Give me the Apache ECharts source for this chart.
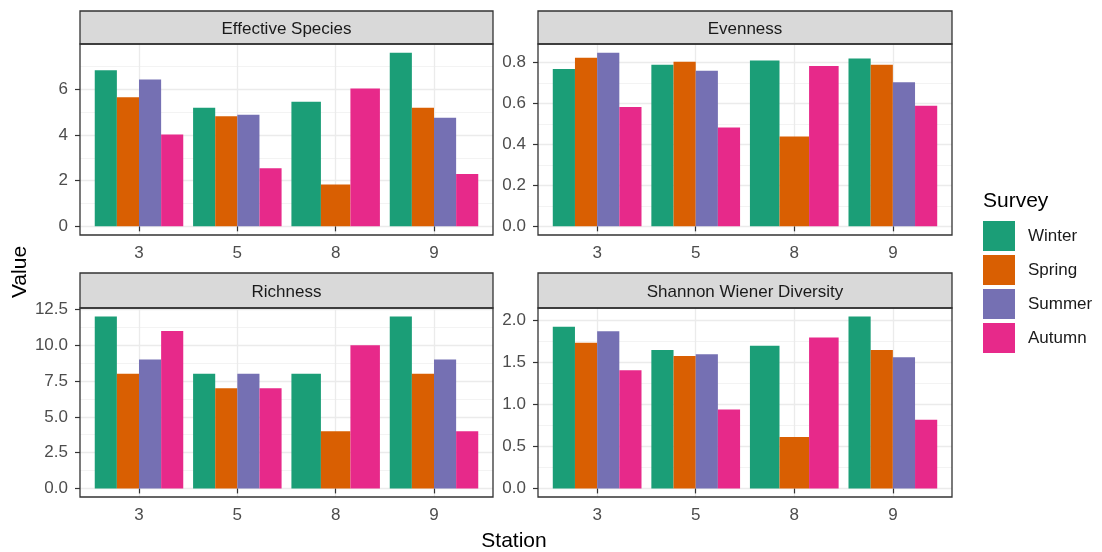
<!DOCTYPE html>
<html>
<head>
<meta charset="utf-8">
<script src="https://cdn.jsdelivr.net/npm/echarts@6/dist/echarts.min.js"></script>
<style>
  html, body {margin: 0; padding: 0; background: #fff;}
  #chart {width: 1102px; height: 552px;}
</style>
</head>
<body>
<div id="chart"></div>
<script>
const stations = ['3', '5', '8', '9']
const surveys = ['Winter', 'Spring', 'Summer', 'Autumn']
const colors = ['#1B9E77', '#D95F02', '#7570B3', '#E7298A']
const panelTitles = ['Effective Species', 'Evenness', 'Richness', 'Shannon Wiener Diversity']

// one row per survey (Winter, Spring, Summer, Autumn), one column per station
const effectiveSpecies = [
  [6.83, 5.19, 5.45, 7.60],
  [5.65, 4.82, 1.83, 5.19],
  [6.43, 4.88, null, 4.75],
  [4.02, 2.54, 6.03, 2.29],
]
const evenness = [
  [0.769, 0.790, 0.811, 0.820],
  [0.824, 0.805, 0.439, 0.790],
  [0.849, 0.761, null, 0.705],
  [0.583, 0.483, 0.784, 0.589],
]
const richness = [
  [12, 8, 8, 12],
  [8, 7, 4, 8],
  [9, 8, null, 9],
  [11, 7, 10, 4],
]
const shannon = [
  [1.921, 1.646, 1.697, 2.043],
  [1.732, 1.575, 0.610, 1.646],
  [1.870, 1.594, null, 1.559],
  [1.406, 0.937, 1.795, 0.815],
]

// tick labels
const yTicks = [
  [0, 2, 4, 6],
  [0, 0.2, 0.4, 0.6, 0.8],
  [0, 2.5, 5, 7.5, 10, 12.5],
  [0, 0.5, 1, 1.5, 2],
]
const yStep = [2, 0.2, 2.5, 0.5]
const yDigits = [0, 1, 1, 1]
const xTicks = [1, 2, 3, 4]

const panelData = [effectiveSpecies, evenness, richness, shannon]

const FONT = '"Liberation Sans", Arial, sans-serif'
const panels = [
  {left: 80, top: 44, width: 413, height: 191, stripTop: 11},
  {left: 538, top: 44, width: 414, height: 191, stripTop: 11},
  {left: 80, top: 308, width: 413, height: 189, stripTop: 273},
  {left: 538, top: 308, width: 414, height: 189, stripTop: 273},
]

// dodge like ggplot: 0.9 wide group split between the bars present
const renderBar = function (params, api) {
  const st = api.value(0), v = api.value(1), slot = api.value(2), n = api.value(3)
  const w = 0.9 / n
  const x0 = st - 0.45 + slot * w
  const p0 = api.coord([x0, v])
  const p1 = api.coord([x0 + w, 0])
  return {
    type: 'rect',
    shape: {x: p0[0], y: p0[1], width: p1[0] - p0[0], height: p1[1] - p0[1]},
    style: api.style(),
  }
}

const buildSeries = function (data, gi) {
  let list = []
  surveys.forEach((name, s) => {
    let items = []
    stations.forEach((st, j) => {
      if (data[s][j] == null) return
      let present = []
      for (let k = 0; k < surveys.length; k++) {
        if (data[k][j] != null) present.push(k)
      }
      items.push([j + 1, data[s][j], present.indexOf(s), present.length])
    })
    list.push({
      type: 'custom',
      name: name,
      xAxisIndex: gi,
      yAxisIndex: gi,
      itemStyle: {color: colors[s]},
      encode: {x: 0, y: 1},
      renderItem: renderBar,
      data: items,
      z: 3,
    })
  })
  return list
}

let grids = [], xAxes = [], yAxes = [], series = [], graphics = []

panelData.forEach((data, i) => {
  const p = panels[i]
  const flat = data.flat().filter(v => v != null)
  const dmax = Math.max(...flat)
  grids.push({left: p.left, top: p.top, width: p.width, height: p.height, show: false})
  xAxes.push({
    type: 'value', gridIndex: i, min: 0.4, max: 4.6, minInterval: 1, maxInterval: 1,
    axisLine: {show: false},
    axisTick: {show: true, length: 5, lineStyle: {color: '#333', width: 1.2}, customValues: xTicks},
    axisLabel: {
      customValues: xTicks, color: '#4D4D4D', fontSize: 17, fontFamily: FONT, margin: 10,
      formatter: v => stations[Math.round(v) - 1],
    },
    splitLine: {show: true, lineStyle: {color: '#EBEBEB', width: 1.3}},
  })
  yAxes.push({
    type: 'value', gridIndex: i, min: -0.05 * dmax, max: 1.05 * dmax,
    minInterval: yStep[i], maxInterval: yStep[i], splitNumber: 5,
    axisLine: {show: false},
    axisTick: {show: true, length: 5, lineStyle: {color: '#333', width: 1.2}, customValues: yTicks[i]},
    axisLabel: {
      customValues: yTicks[i], color: '#4D4D4D', fontSize: 17, fontFamily: FONT, margin: 12,
      formatter: v => Number(v).toFixed(yDigits[i]),
    },
    splitLine: {show: true, lineStyle: {color: '#EBEBEB', width: 1.3}},
    minorTick: {show: false, splitNumber: 2},
    minorSplitLine: {show: true, lineStyle: {color: '#F0F0F0', width: 0.8}},
  })
  series = series.concat(buildSeries(data, i))

  // strip on top of the panel
  graphics.push({
    type: 'rect', z: 10,
    shape: {x: p.left, y: p.stripTop, width: p.width, height: p.top - p.stripTop},
    style: {fill: '#D9D9D9', stroke: '#333', lineWidth: 1.3},
  })
  graphics.push({
    type: 'text', x: p.left + p.width / 2, y: (p.stripTop + p.top) / 2 + 2, z: 11,
    style: {text: panelTitles[i], fill: '#1A1A1A', font: '17px ' + FONT, textAlign: 'center', textVerticalAlign: 'middle'},
  })
  // panel border
  graphics.push({
    type: 'rect', z: 10,
    shape: {x: p.left, y: p.top, width: p.width, height: p.height},
    style: {fill: null, stroke: '#333', lineWidth: 1.3},
  })
})

graphics.push({
  type: 'text', x: 20, y: 272, rotation: Math.PI / 2, z: 11,
  style: {text: 'Value', fill: '#000', font: '21px ' + FONT, textAlign: 'center', textVerticalAlign: 'middle'},
})
graphics.push({
  type: 'text', x: 514, y: 541, z: 11,
  style: {text: 'Station', fill: '#000', font: '21px ' + FONT, textAlign: 'center', textVerticalAlign: 'middle'},
})
graphics.push({
  type: 'text', x: 983, y: 201, z: 11,
  style: {text: 'Survey', fill: '#000', font: '21px ' + FONT, textAlign: 'left', textVerticalAlign: 'middle'},
})

const chart = echarts.init(document.getElementById('chart'))
chart.setOption({
  animation: false,
  backgroundColor: '#fff',
  grid: grids,
  xAxis: xAxes,
  yAxis: yAxes,
  legend: {
    orient: 'vertical', left: 983, top: 221, padding: 0,
    itemWidth: 32, itemHeight: 30, itemGap: 4, icon: 'rect',
    selectedMode: false, data: surveys,
    textStyle: {fontSize: 17, color: '#1A1A1A', fontFamily: FONT, padding: [0, 0, 0, 8]},
  },
  graphic: graphics,
  series: series,
})
</script>
</body>
</html>
